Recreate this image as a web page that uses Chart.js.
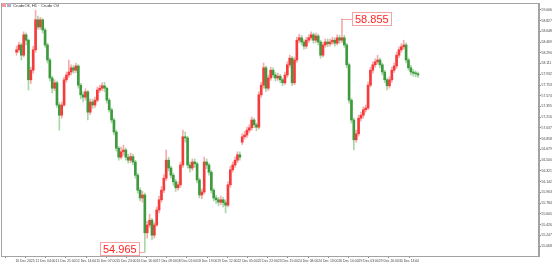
<!DOCTYPE html>
<html>
<head>
<meta charset="utf-8">
<script src="https://cdn.jsdelivr.net/npm/chart.js@4.4.1/dist/chart.umd.min.js"></script>
<style>
  html, body { margin: 0; padding: 0; background: #fff; }
</style>
</head>
<body>
<canvas id="myChart" width="554" height="265"></canvas>
<script>
'use strict';

// CrudeOil, 2h candles
const opens = [
    58.30,58.34,58.42,58.25,58.59,58.50,57.84,58.00,58.34,58.84,
    58.72,58.84,58.67,58.42,58.17,57.87,57.70,57.79,57.42,57.25,
    57.42,57.84,57.92,57.97,58.04,58.00,58.07,57.75,57.59,57.55,
    57.64,57.30,57.47,57.42,57.50,57.67,57.70,57.74,57.70,57.50,
    57.34,57.17,56.97,56.70,56.55,56.64,56.67,56.55,56.50,56.56,
    56.47,56.25,56.00,55.87,55.92,55.29,55.42,55.50,55.25,55.42,
    55.67,55.84,56.00,56.20,56.50,56.37,56.25,56.14,56.04,56.09,
    56.42,56.89,56.87,56.42,56.37,56.47,56.44,56.17,55.92,55.97,
    56.47,56.42,56.30,56.00,55.87,55.84,55.80,55.84,55.79,55.75,
    56.09,56.34,56.42,56.50,56.59,56.80,56.89,56.92,57.00,57.04,
    57.17,57.09,57.05,57.59,57.75,58.04,57.70,57.87,58.00,57.92,
    57.87,57.90,57.84,57.79,57.92,58.09,58.20,57.79,58.17,58.50,
    58.54,58.47,58.40,58.50,58.54,58.59,58.50,58.57,58.47,58.25,
    58.42,58.47,58.44,58.47,58.50,58.45,58.54,58.50,58.54,58.42,
    58.09,57.50,57.17,56.84,56.94,57.20,57.25,57.34,57.37,57.75,
    58.00,58.09,58.14,58.17,58.09,57.97,57.84,57.74,57.84,58.00,
    58.07,58.25,58.34,58.39,58.42,58.17,58.04,57.97,57.95,57.94
];
const highs = [
    58.40,58.47,58.45,58.64,58.62,58.52,58.05,58.40,59.00,58.90,
    58.88,58.86,58.70,58.45,58.20,57.90,57.84,57.82,57.46,57.47,
    57.88,57.97,58.17,58.09,58.08,58.12,58.09,57.78,57.64,57.69,
    57.66,57.52,57.52,57.55,57.72,57.75,57.79,57.80,57.72,57.53,
    57.37,57.20,57.00,56.73,56.72,56.75,56.70,56.60,56.62,56.60,
    56.50,56.28,56.04,55.98,55.95,55.48,55.60,55.53,55.46,55.72,
    55.90,56.06,56.26,56.67,56.55,56.40,56.28,56.18,56.14,56.47,
    57.00,56.97,56.90,56.47,56.52,56.52,56.47,56.20,56.02,56.55,
    56.52,56.45,56.33,56.03,55.92,55.88,55.90,55.88,55.84,56.14,
    56.40,56.47,56.55,56.64,56.64,56.94,56.98,57.05,57.09,57.22,
    57.20,57.12,57.64,57.80,58.12,58.07,57.92,58.05,58.04,57.96,
    57.95,57.93,57.87,57.97,58.14,58.25,58.23,58.22,58.55,58.60,
    58.58,58.51,58.55,58.59,58.64,58.62,58.62,58.60,58.50,58.47,
    58.52,58.52,58.52,58.55,58.54,58.59,58.58,58.855,58.58,58.45,
    58.12,57.53,57.20,57.00,57.25,57.30,57.39,57.42,57.80,58.05,
    58.14,58.19,58.25,58.20,58.12,58.00,57.87,57.89,58.05,58.12,
    58.30,58.39,58.44,58.50,58.45,58.20,58.08,58.01,57.99,57.97
];
const lows = [
    58.25,58.30,58.17,58.22,58.42,57.67,57.78,57.95,58.30,58.68,
    58.68,58.62,58.38,58.12,57.82,57.62,57.66,57.38,57.00,57.20,
    57.40,57.80,57.88,57.92,57.95,57.96,57.70,57.52,57.47,57.50,
    57.17,57.26,57.36,57.38,57.47,57.63,57.66,57.64,57.45,57.30,
    57.12,56.92,56.65,56.50,56.52,56.58,56.50,56.45,56.46,56.42,
    56.20,55.95,55.82,55.80,54.965,55.20,55.38,55.17,55.20,55.40,
    55.62,55.80,55.96,56.16,56.32,56.20,56.08,55.98,56.00,56.05,
    56.38,56.80,56.37,56.30,56.33,56.38,56.12,55.87,55.86,55.94,
    56.36,56.25,55.95,55.82,55.78,55.74,55.76,55.72,55.62,55.72,
    56.05,56.30,56.38,56.46,56.50,56.76,56.85,56.88,56.96,57.00,
    57.04,56.99,57.02,57.55,57.70,57.64,57.66,57.83,57.87,57.82,
    57.83,57.79,57.74,57.76,57.88,58.05,57.74,57.76,58.13,58.46,
    58.42,58.35,58.36,58.46,58.50,58.45,58.46,58.42,58.20,58.22,
    58.38,58.39,58.40,58.43,58.40,58.42,58.45,58.46,58.38,58.04,
    57.45,57.12,56.67,56.80,56.90,57.15,57.20,57.30,57.34,57.72,
    57.95,58.05,58.10,58.04,57.92,57.79,57.67,57.70,57.80,57.96,
    58.03,58.21,58.30,58.35,58.12,58.00,57.92,57.90,57.89,57.88
];
const closes = [
    58.34,58.42,58.25,58.59,58.50,57.84,58.00,58.34,58.84,58.72,
    58.84,58.67,58.42,58.17,57.87,57.70,57.79,57.42,57.25,57.42,
    57.84,57.92,57.97,58.04,58.00,58.07,57.75,57.59,57.55,57.64,
    57.30,57.47,57.42,57.50,57.67,57.70,57.74,57.70,57.50,57.34,
    57.17,56.97,56.70,56.55,56.64,56.67,56.55,56.50,56.56,56.47,
    56.25,56.00,55.87,55.92,55.29,55.42,55.50,55.25,55.42,55.67,
    55.84,56.00,56.20,56.50,56.37,56.25,56.14,56.04,56.09,56.42,
    56.89,56.87,56.42,56.37,56.47,56.44,56.17,55.92,55.97,56.47,
    56.42,56.30,56.00,55.87,55.84,55.80,55.84,55.79,55.75,56.09,
    56.34,56.42,56.50,56.59,56.55,56.89,56.92,57.00,57.04,57.17,
    57.09,57.05,57.59,57.75,58.04,57.70,57.87,58.00,57.92,57.87,
    57.90,57.84,57.79,57.92,58.09,58.20,57.79,58.17,58.50,58.54,
    58.47,58.40,58.50,58.54,58.59,58.50,58.57,58.47,58.25,58.42,
    58.47,58.44,58.47,58.50,58.45,58.54,58.50,58.54,58.42,58.09,
    57.50,57.17,56.84,56.94,57.20,57.25,57.34,57.37,57.75,58.00,
    58.09,58.14,58.17,58.09,57.97,57.84,57.74,57.84,58.00,58.07,
    58.25,58.34,58.39,58.42,58.17,58.04,57.97,57.95,57.94,57.92
];

const dateLabels = [
    '10 Dec 2025', '11 Dec 04:00', '11 Dec 21:00', '12 Dec 14:00', '15 Dec 07:00',
    '15 Dec 23:00', '16 Dec 16:00', '17 Dec 09:00', '18 Dec 02:00', '18 Dec 19:00',
    '19 Dec 12:00', '22 Dec 05:00', '22 Dec 22:00', '23 Dec 15:00', '24 Dec 08:00',
    '24 Dec 13:00', '26 Dec 10:00', '29 Dec 03:00', '29 Dec 20:00', '30 Dec 13:00'
];
const priceTicks = [
    55.068, 55.247, 55.426, 55.605, 55.784, 55.963, 56.142, 56.321, 56.500, 56.679,
    56.858, 57.037, 57.216, 57.395, 57.574, 57.753, 57.932, 58.111, 58.290, 58.469,
    58.648, 58.827, 59.006
];
const markedHigh = 58.855;
const markedLow = 54.965;
const title = 'CrudeOil, H1 · Crude Oil';

const UP = '#f53b3b', DOWN = '#3d9b3d';
const UP_WICK = '#f7aaaa', DOWN_WICK = '#a9d6a9';
const tinyFont = { family: '"Liberation Sans", Arial, sans-serif', size: 3.4 };

const isUp = i => closes[i] >= opens[i];
const barX = i => i * 2 + 1; // hour of bar centre (2h bars)

const frame = {
    id: 'frame',
    beforeDatasetsDraw(chart) {
        const { ctx, chartArea: a } = chart;
        ctx.save();
        ctx.strokeStyle = '#a3a3a3';
        ctx.lineWidth = 1;
        ctx.strokeRect(a.left + 0.5, a.top + 0.5, a.right - a.left - 1, a.bottom - a.top);
        ctx.restore();
    },
    afterDraw(chart) {
        const { ctx } = chart;
        ctx.save();
        ctx.fillStyle = '#f19b9b';
        ctx.fillRect(2, 3, 4, 4);
        ctx.fillStyle = '#9bb7e0';
        ctx.fillRect(7, 3, 4, 4);
        ctx.fillStyle = '#f19b9b';
        ctx.fillRect(8, 4, 2, 2);
        ctx.fillStyle = '#333';
        ctx.font = '4.2px "Liberation Sans", Arial, sans-serif';
        ctx.textBaseline = 'middle';
        ctx.fillText(title, 13, 5.5);
        ctx.restore();
    }
};

const priceMarks = {
    id: 'priceMarks',
    afterDatasetsDraw(chart) {
        const { ctx, chartArea: a, scales: { x, y } } = chart;

        const tag = (text, i, value, side) => {
            const px = x.getPixelForValue(barX(i));
            const py = y.getPixelForValue(value);
            ctx.font = '11px "Liberation Sans", Arial, sans-serif';
            const w = ctx.measureText(text).width + 5;
            const h = 13;
            const bx = side > 0 ? px + 10 : px - 6 - w;
            let by = py - h / 2;
            if (by + h > a.bottom - 1) by = a.bottom - 1 - h;
            ctx.strokeStyle = '#f4a3a3';
            ctx.lineWidth = 1;
            ctx.beginPath();
            ctx.moveTo(px, Math.round(py) + 0.5);
            ctx.lineTo(side > 0 ? bx : bx + w, Math.round(py) + 0.5);
            ctx.stroke();
            ctx.fillStyle = '#fff';
            ctx.fillRect(Math.round(bx), Math.round(by), w, h);
            ctx.strokeRect(Math.round(bx) + 0.5, Math.round(by) + 0.5, Math.round(w), h);
            ctx.fillStyle = '#ff2323';
            ctx.textBaseline = 'middle';
            ctx.fillText(text, Math.round(bx) + 3, Math.round(by) + h / 2 + 1);
        };

        ctx.save();
        tag(markedHigh.toFixed(3), highs.indexOf(markedHigh), markedHigh, 1);
        tag(markedLow.toFixed(3), lows.indexOf(markedLow), markedLow, -1);
        ctx.restore();
    }
};

const ctx = document.getElementById('myChart').getContext('2d');

new Chart(ctx, {
    type: 'bar',
    data: {
        datasets: [
            {
                // bodies first so they sit above the wicks
                label: 'body',
                data: opens.map((o, i) => ({ x: barX(i), y: [o, closes[i]] })),
                backgroundColor: c => isUp(c.dataIndex) ? UP : DOWN,
                barThickness: 2,
                minBarLength: 1,
                grouped: false,
                borderWidth: 0
            },
            {
                label: 'wick',
                data: highs.map((h, i) => ({ x: barX(i), y: [lows[i], h] })),
                backgroundColor: c => isUp(c.dataIndex) ? UP_WICK : DOWN_WICK,
                barThickness: 1,
                grouped: false,
                borderWidth: 0
            }
        ]
    },
    options: {
        responsive: false,
        animation: false,
        layout: { padding: { left: 1, top: 3, right: 0, bottom: 0 } },
        plugins: {
            legend: { display: false },
            tooltip: { enabled: false }
        },
        scales: {
            x: {
                type: 'linear',
                min: -0.8,
                max: 429.6,
                afterBuildTicks: scale => {
                    scale.ticks = dateLabels.map((_, k) => ({ value: k * 17 }));
                },
                afterFit: scale => { scale.height = 9; },
                grid: { drawOnChartArea: false, tickLength: 2, color: '#8a8a8a' },
                border: { color: '#a3a3a3' },
                ticks: {
                    autoSkip: false,
                    maxRotation: 0,
                    align: 'start',
                    padding: 1,
                    color: '#444',
                    font: tinyFont,
                    callback: (v, idx) => dateLabels[idx]
                }
            },
            y: {
                position: 'right',
                min: 54.903,
                max: 59.12,
                afterBuildTicks: scale => {
                    scale.ticks = priceTicks.map(v => ({ value: v }));
                },
                afterFit: scale => { scale.width = 15; },
                grid: { drawOnChartArea: false, tickLength: 2, color: '#8a8a8a' },
                border: { color: '#a3a3a3' },
                ticks: {
                    padding: 0.5,
                    color: '#444',
                    font: tinyFont,
                    callback: v => v.toFixed(3)
                }
            }
        }
    },
    plugins: [frame, priceMarks]
});
</script>
</body>
</html>
